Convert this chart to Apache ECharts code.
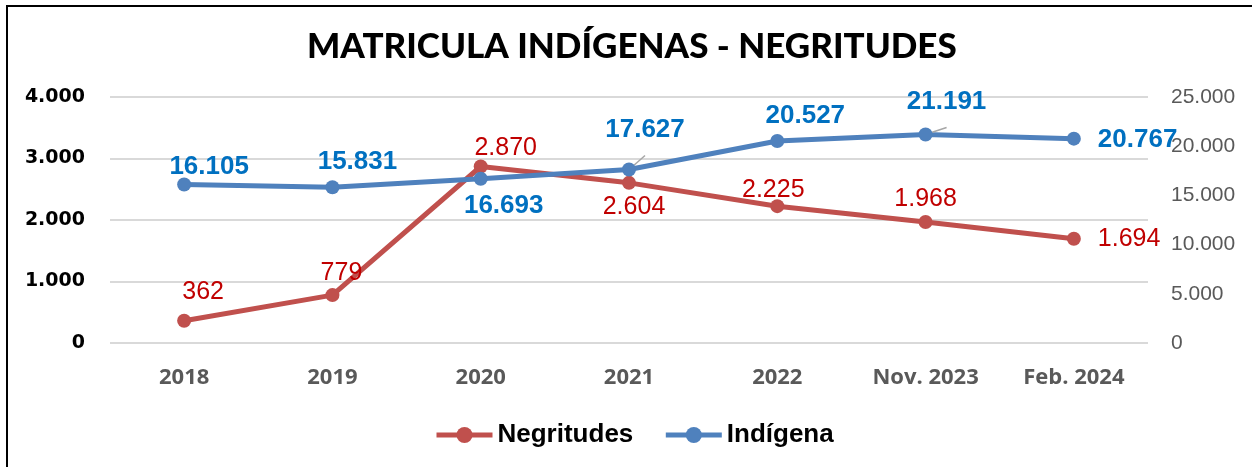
<!DOCTYPE html>
<html>
<head>
<meta charset="utf-8">
<script src="https://cdn.jsdelivr.net/npm/echarts@6/dist/echarts.min.js"></script>
<style>
  html, body { margin: 0; padding: 0; background: #fff; }
  #chart { position: absolute; left: 0; top: 0; width: 1252px; height: 467px; }
  #frame { position: absolute; left: 6px; top: 5px; width: 1300px; height: 500px;
           border-left: 2px solid #000; border-top: 2px solid #000; pointer-events: none; }
</style>
</head>
<body>
<div id="chart"></div>
<div id="frame"></div>
<script>
const categories = ['2018', '2019', '2020', '2021', '2022', 'Nov. 2023', 'Feb. 2024'];
const negritudes = [362, 779, 2870, 2604, 2225, 1968, 1694];
const indigena = [16105, 15831, 16693, 17627, 20527, 21191, 20767];
const leftTicks = {min: 0, max: 4000, interval: 1000};
const rightTicks = {min: 0, max: 25000, interval: 5000};

// label placement per point (position, offset)
const negLabels = [
  ['top', [19, -4]], ['top', [9, 3]], ['top', [25, 6]], ['bottom', [5, 0]],
  ['top', [-4, 8]], ['top', [0, 2]], ['right', [12, 0]]
];
const indLabels = [
  ['top', [25, 7]], ['top', [25, 0]], ['bottom', [23, 2]], ['top', [16, -15]],
  ['top', [28, 0]], ['top', [21, -8]], ['right', [12, 1]]
];
const leaderIdx = [3, 5];

const fmt = v => String(v).replace(/\B(?=(\d{3})+(?!\d))/g, '.');

const chart = echarts.init(document.getElementById('chart'));
chart.setOption({
  animation: false,
  title: {
    text: 'MATRICULA INDÍGENAS - NEGRITUDES',
    left: 302,
    top: 24,
    textStyle: {fontFamily: 'Lato', fontWeight: 900, fontSize: 35, color: '#000'}
  },
  legend: {
    top: 417,
    left: 429,
    itemWidth: 56,
    itemHeight: 20,
    itemGap: 30,
    lineStyle: {width: 5},
    textStyle: {fontFamily: 'Liberation Sans', fontWeight: 'bold', fontSize: 26, color: '#000'},
    data: ['Negritudes', 'Indígena']
  },
  grid: {left: 110, right: 104, top: 97, bottom: 124},
  xAxis: {
    type: 'category',
    data: categories,
    boundaryGap: true,
    axisLine: {show: false},
    axisTick: {show: false},
    axisLabel: {margin: 24, fontFamily: 'Open Sans', fontWeight: 'bold', fontSize: 22, color: '#595959'}
  },
  yAxis: [
    {
      type: 'value',
      ...leftTicks,
      splitLine: {lineStyle: {color: '#D9D9D9', width: 2}},
      axisLabel: {margin: 25, fontFamily: 'DejaVu Sans', fontWeight: 'bold', fontSize: 19, color: '#000', formatter: fmt}
    },
    {
      type: 'value',
      ...rightTicks,
      splitLine: {show: false},
      axisLabel: {margin: 23, fontFamily: 'Liberation Sans', fontSize: 21, color: '#595959', formatter: fmt}
    }
  ],
  series: [
    {
      name: 'Negritudes',
      type: 'line',
      yAxisIndex: 0,
      color: '#C0504D',
      data: negritudes.map((v, i) => ({
        value: v,
        label: {position: negLabels[i][0], offset: negLabels[i][1]}
      })),
      label: {show: true, fontFamily: 'Liberation Sans', fontSize: 25, color: '#C00000', formatter: p => fmt(p.value)}
    },
    {
      name: 'Indígena',
      type: 'line',
      yAxisIndex: 1,
      color: '#4F81BD',
      data: indigena.map((v, i) => ({
        value: v,
        label: {position: indLabels[i][0], offset: indLabels[i][1]},
        labelLine: leaderIdx.includes(i) ? {show: true, lineStyle: {color: '#A6A6A6', width: 1.5}} : {show: false}
      })),
      label: {show: true, fontFamily: 'Liberation Sans', fontWeight: 'bold', fontSize: 26, color: '#0070C0', formatter: p => fmt(p.value)}
    }
  ].map(s => ({
    ...s,
    symbol: 'circle',
    symbolSize: 14,
    lineStyle: {width: 5},
    z: s.name === 'Indígena' ? 3 : 2
  }))
});
</script>
</body>
</html>
